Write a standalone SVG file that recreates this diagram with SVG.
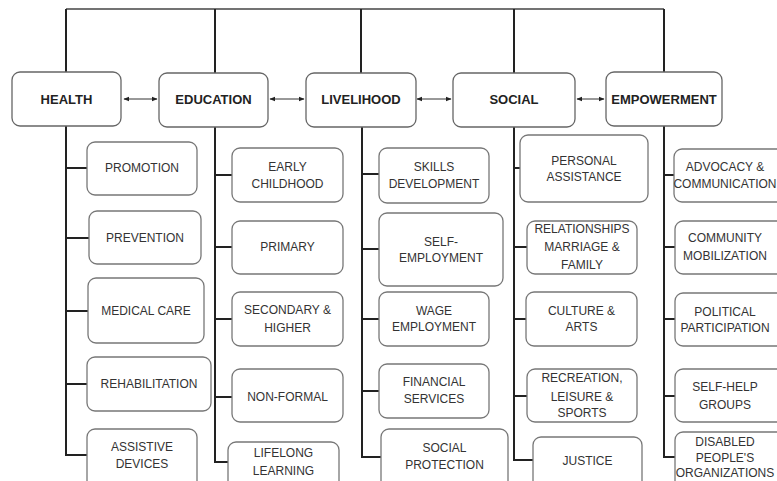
<svg xmlns="http://www.w3.org/2000/svg" width="777" height="481" viewBox="0 0 777 481">
<defs>
<marker id="ah" viewBox="0 0 10 10" refX="9" refY="5" markerWidth="6" markerHeight="6" orient="auto-start-reverse" markerUnits="userSpaceOnUse"><path d="M0,1 L10,5 L0,9 z" fill="#222"/></marker>
<style>
.hb{fill:#fff;stroke:#666;stroke-width:1.3}
.sb{fill:#fff;stroke:#777;stroke-width:1.3}
.ht{font-family:"Liberation Sans",Arial,sans-serif;font-weight:bold;font-size:13px;fill:#222;text-anchor:middle}
.st{font-family:"Liberation Sans",Arial,sans-serif;font-size:12px;fill:#333;text-anchor:middle}
.ln{fill:none;stroke:#222;stroke-width:2}
.top{fill:none;stroke:#444;stroke-width:1.3}
.ar{fill:none;stroke:#333;stroke-width:1;marker-start:url(#ah);marker-end:url(#ah)}
</style>
</defs>
<rect width="777" height="481" fill="#fff"/>
<g id="connectors">
<path class="top" d="M66,9 H664"/>
<path class="ln" d="M66,9 V72 M215,9 V73 M361,9 V73 M514,9 V73 M664,9 V72"/>
<path class="ln" d="M66,126 V455 H87 M66,168 H87 M66,238 H89 M66,311 H88 M66,384 H87"/>
<path class="ln" d="M215,127 V462 H228 M215,175 H232 M215,247 H232 M215,319 H232 M215,397 H232"/>
<path class="ln" d="M362,127 V457 H381 M362,174 H379 M362,249 H379 M362,319 H379 M362,391 H379"/>
<path class="ln" d="M514,127 V460 H533 M514,168 H520 M514,247 H527 M514,319 H526 M514,396 H527"/>
<path class="ln" d="M664,126 V457 H675 M664,175 H674 M664,247 H675 M664,319 H675 M664,396 H675"/>
<path class="ar" d="M124,99 H157"/>
<path class="ar" d="M270,99 H304"/>
<path class="ar" d="M417,99 H451"/>
<path class="ar" d="M577,99 H604"/>
</g>
<g id="health"><rect class="hb" x="12" y="72" width="109" height="54" rx="8"/><text class="ht" x="66.5" y="104">HEALTH</text></g>
<g id="education"><rect class="hb" x="159" y="73" width="109" height="54" rx="8"/><text class="ht" x="213.5" y="104">EDUCATION</text></g>
<g id="livelihood"><rect class="hb" x="306" y="73" width="110" height="54" rx="8"/><text class="ht" x="361" y="104">LIVELIHOOD</text></g>
<g id="social"><rect class="hb" x="453" y="73" width="122" height="54" rx="8"/><text class="ht" x="514" y="104">SOCIAL</text></g>
<g id="empowerment"><rect class="hb" x="606" y="72" width="116" height="54" rx="8"/><text class="ht" x="664" y="104">EMPOWERMENT</text></g>

<g id="promotion"><rect class="sb" x="87" y="142" width="110" height="53" rx="8"/><text class="st" x="142" y="172">PROMOTION</text></g>
<g id="prevention"><rect class="sb" x="89" y="211" width="112" height="53" rx="8"/><text class="st" x="145" y="242">PREVENTION</text></g>
<g id="medical-care"><rect class="sb" x="88" y="278" width="116" height="65" rx="8"/><text class="st" x="146" y="315">MEDICAL CARE</text></g>
<g id="rehabilitation"><rect class="sb" x="87" y="357" width="124" height="54" rx="8"/><text class="st" x="149" y="388">REHABILITATION</text></g>
<g id="assistive-devices"><rect class="sb" x="87" y="429" width="110" height="62" rx="8"/><text class="st" x="142" y="451">ASSISTIVE</text><text class="st" x="142" y="468">DEVICES</text></g>

<g id="early-childhood"><rect class="sb" x="232" y="148" width="111" height="54" rx="8"/><text class="st" x="287.5" y="171">EARLY</text><text class="st" x="287.5" y="188">CHILDHOOD</text></g>
<g id="primary"><rect class="sb" x="232" y="221" width="111" height="53" rx="8"/><text class="st" x="287.5" y="251">PRIMARY</text></g>
<g id="secondary-higher"><rect class="sb" x="232" y="292" width="111" height="54" rx="8"/><text class="st" x="287.5" y="314">SECONDARY &amp;</text><text class="st" x="287.5" y="332">HIGHER</text></g>
<g id="non-formal"><rect class="sb" x="232" y="369" width="111" height="53" rx="8"/><text class="st" x="287.5" y="401">NON-FORMAL</text></g>
<g id="lifelong-learning"><rect class="sb" x="228" y="442" width="111" height="50" rx="8"/><text class="st" x="283.5" y="457">LIFELONG</text><text class="st" x="283.5" y="475">LEARNING</text></g>

<g id="skills-development"><rect class="sb" x="379" y="148" width="110" height="55" rx="8"/><text class="st" x="434" y="171">SKILLS</text><text class="st" x="434" y="188">DEVELOPMENT</text></g>
<g id="self-employment"><rect class="sb" x="379" y="213" width="124" height="73" rx="8"/><text class="st" x="441" y="246">SELF-</text><text class="st" x="441" y="262">EMPLOYMENT</text></g>
<g id="wage-employment"><rect class="sb" x="379" y="292" width="110" height="54" rx="8"/><text class="st" x="434" y="315">WAGE</text><text class="st" x="434" y="331">EMPLOYMENT</text></g>
<g id="financial-services"><rect class="sb" x="379" y="364" width="110" height="54" rx="8"/><text class="st" x="434" y="386">FINANCIAL</text><text class="st" x="434" y="403">SERVICES</text></g>
<g id="social-protection"><rect class="sb" x="381" y="429" width="127" height="62" rx="8"/><text class="st" x="444.5" y="452">SOCIAL</text><text class="st" x="444.5" y="469">PROTECTION</text></g>

<g id="personal-assistance"><rect class="sb" x="520" y="135" width="128" height="67" rx="8"/><text class="st" x="584" y="165">PERSONAL</text><text class="st" x="584" y="181">ASSISTANCE</text></g>
<g id="relationships"><rect class="sb" x="527" y="221" width="110" height="53" rx="8"/><text class="st" x="582" y="233">RELATIONSHIPS</text><text class="st" x="582" y="251">MARRIAGE &amp;</text><text class="st" x="582" y="269">FAMILY</text></g>
<g id="culture-arts"><rect class="sb" x="526" y="292" width="111" height="54" rx="8"/><text class="st" x="581.5" y="315">CULTURE &amp;</text><text class="st" x="581.5" y="331">ARTS</text></g>
<g id="recreation"><rect class="sb" x="527" y="369" width="110" height="53" rx="8"/><text class="st" x="582" y="382">RECREATION,</text><text class="st" x="582" y="401">LEISURE &amp;</text><text class="st" x="582" y="417">SPORTS</text></g>
<g id="justice"><rect class="sb" x="533" y="437" width="109" height="55" rx="8"/><text class="st" x="587.5" y="465">JUSTICE</text></g>

<g id="advocacy"><rect class="sb" x="674" y="149" width="112" height="53" rx="8"/><text class="st" x="725" y="171">ADVOCACY &amp;</text><text class="st" x="725" y="188">COMMUNICATION</text></g>
<g id="community-mobilization"><rect class="sb" x="675" y="221" width="112" height="53" rx="8"/><text class="st" x="725" y="242">COMMUNITY</text><text class="st" x="725" y="260">MOBILIZATION</text></g>
<g id="political-participation"><rect class="sb" x="675" y="293" width="112" height="53" rx="8"/><text class="st" x="725" y="316">POLITICAL</text><text class="st" x="725" y="332">PARTICIPATION</text></g>
<g id="self-help-groups"><rect class="sb" x="675" y="369" width="112" height="53" rx="8"/><text class="st" x="725" y="391">SELF-HELP</text><text class="st" x="725" y="409">GROUPS</text></g>
<g id="dpo"><rect class="sb" x="675" y="432" width="112" height="60" rx="8"/><text class="st" x="725" y="446">DISABLED</text><text class="st" x="725" y="462">PEOPLE'S</text><text class="st" x="725" y="477">ORGANIZATIONS</text></g>
</svg>
